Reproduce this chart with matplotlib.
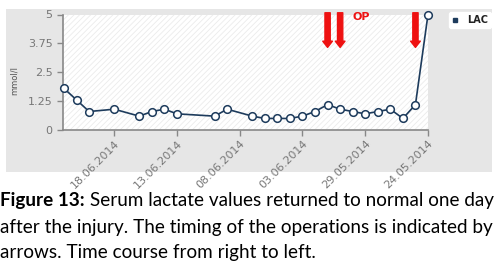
import datetime as dt
import matplotlib
matplotlib.use("Agg")
import matplotlib.pyplot as plt
import matplotlib.dates as mdates
from matplotlib.patches import Rectangle
from matplotlib.lines import Line2D

# data (time runs right to left)
dates = ["22.06.2014", "21.06.2014", "20.06.2014", "18.06.2014", "16.06.2014",
         "15.06.2014", "14.06.2014", "13.06.2014", "10.06.2014", "09.06.2014",
         "07.06.2014", "06.06.2014", "05.06.2014", "04.06.2014", "03.06.2014",
         "02.06.2014", "01.06.2014", "31.05.2014", "30.05.2014", "29.05.2014",
         "28.05.2014", "27.05.2014", "26.05.2014", "25.05.2014", "24.05.2014"]
lac = [1.8, 1.3, 0.8, 0.9, 0.6, 0.8, 0.9, 0.7, 0.6, 0.9, 0.6, 0.5, 0.5, 0.5,
       0.6, 0.8, 1.1, 0.9, 0.8, 0.7, 0.8, 0.9, 0.5, 1.1, 5.0]
tick_dates = ["18.06.2014", "13.06.2014", "08.06.2014", "03.06.2014",
              "29.05.2014", "24.05.2014"]
y_ticks = [0, 1.25, 2.5, 3.75, 5]
y_tick_labels = ["0", "1.25", "2.5", "3.75", "5"]
op_dates = ["01.06.2014", "31.05.2014", "25.05.2014"]

def to_num(s):
    return mdates.date2num(dt.datetime.strptime(s, "%d.%m.%Y"))

x = [to_num(d) for d in dates]
navy = "#1d3b5c"
grey = "#777777"

plt.rcParams["hatch.linewidth"] = 0.6
fig = plt.figure(figsize=(5.02, 2.72), dpi=100)
fig.patch.set_facecolor("white")

# grey chart panel behind the axes
panel = Rectangle((6 / 502, 100 / 272), 486 / 502, 163 / 272,
                  transform=fig.transFigure, facecolor="#e6e6e6",
                  edgecolor="none", zorder=-5)
fig.add_artist(panel)

ax = fig.add_axes([63 / 502, 142 / 272, 365 / 502, 115.5 / 272])
ax.set_facecolor("white")
ax.add_patch(Rectangle((0, 0), 1, 1, transform=ax.transAxes, facecolor="white",
                       edgecolor="#ebebeb", hatch="//////", linewidth=0, zorder=0))

ax.plot(x, lac, color=navy, lw=1.2, marker="o", markersize=5.5,
        markerfacecolor="white", markeredgecolor=navy, markeredgewidth=1.1,
        clip_on=False, zorder=3)

ax.set_xlim(to_num(dates[0]) + 0.08, to_num(dates[-1]))
ax.set_ylim(0, 5)
ax.set_yticks(y_ticks)
ax.set_yticklabels(y_tick_labels)
ax.set_xticks([to_num(d) for d in tick_dates])
ax.set_xticklabels(tick_dates, rotation=45, ha="right", va="top",
                   rotation_mode="anchor")
ax.tick_params(axis="both", colors="#888888", labelcolor=grey, labelsize=8,
               length=4, width=1)
ax.tick_params(axis="x", pad=2)
for s in ["top", "right"]:
    ax.spines[s].set_visible(False)
for s in ["left", "bottom"]:
    ax.spines[s].set_color("#888888")
    ax.spines[s].set_linewidth(1.2)

fig.text(14 / 502, 1 - 80 / 272, "mmol/l", rotation=90, fontsize=6,
         color="#555555", ha="center", va="center")

# operation arrows
for d in op_dates:
    ax.annotate("", xy=(to_num(d), 0.715), xytext=(to_num(d), 1.015),
                xycoords=("data", "axes fraction"),
                textcoords=("data", "axes fraction"),
                arrowprops=dict(arrowstyle="simple,head_length=0.45,head_width=0.7,tail_width=0.38",
                                color="#ee1111", mutation_scale=10,
                                shrinkA=0, shrinkB=0),
                annotation_clip=False, zorder=4)
fig.text(361 / 502, 1 - 17 / 272, "OP", color="#ee1111", fontsize=8,
         fontweight="bold", ha="center", va="center")

# legend
leg_h = [Line2D([], [], color=navy, marker="s", markersize=3.5, linestyle="none")]
leg = fig.legend(leg_h, ["LAC"], loc="upper right",
                 bbox_to_anchor=(491 / 502, 1 - 12 / 272), fontsize=7,
                 frameon=True, fancybox=True, handlelength=0.8,
                 handletextpad=0.8, borderpad=0.3, borderaxespad=0)
leg.get_frame().set_edgecolor("white")
leg.get_frame().set_facecolor("white")
leg.get_frame().set_alpha(1)
for t in leg.get_texts():
    t.set_fontweight("bold")
    t.set_color("#222222")

# caption
cap_font = "Lato"
cap_size = 13.6
t1 = fig.text(0.0, 1 - 209 / 272, "Figure 13:", fontsize=cap_size,
              fontweight="bold", family=cap_font, va="bottom")
ax.annotate(" Serum lactate values returned to normal one day", xy=(1, 0),
            xycoords=t1, va="bottom", ha="left", fontsize=cap_size,
            family=cap_font, annotation_clip=False)
fig.text(0.0, 1 - 236 / 272, "after the injury. The timing of the operations is indicated by",
         fontsize=cap_size, family=cap_font, va="bottom")
fig.text(0.0, 1 - 261 / 272, "arrows. Time course from right to left.",
         fontsize=cap_size, family=cap_font, va="bottom")

fig.savefig("out.png", dpi=100)
